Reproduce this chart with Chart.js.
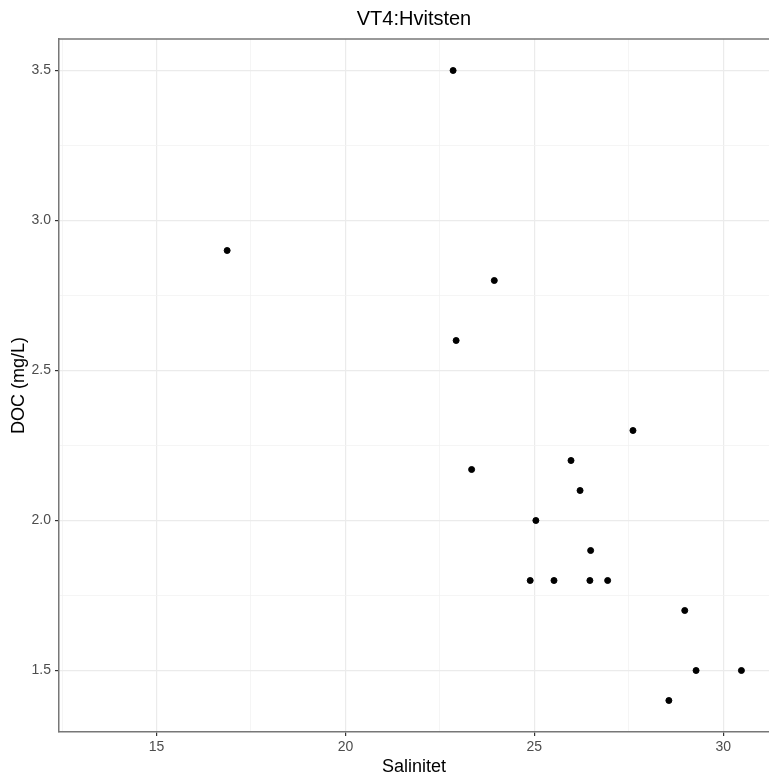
<!DOCTYPE html>
<html>
<head>
<meta charset="utf-8">
<script src="https://cdn.jsdelivr.net/npm/chart.js@4"></script>
<style>
  html, body { margin: 0; padding: 0; background: #fff; }
  canvas { display: block; }
</style>
</head>
<body>
<canvas id="c" width="769" height="780"></canvas>
<script>
// data
const salinitet = [16.87, 22.85, 22.93, 23.94, 23.34, 25.97, 26.21, 25.04, 26.49, 24.89, 25.52, 26.47, 26.94, 27.61, 28.98, 29.28, 30.48, 28.56];
const doc = [2.9, 3.5, 2.6, 2.8, 2.17, 2.2, 2.1, 2.0, 1.9, 1.8, 1.8, 1.8, 1.8, 2.3, 1.7, 1.5, 1.5, 1.4];

const xMajor = [15, 20, 25, 30];
const xMinor = [12.5, 17.5, 22.5, 27.5];
const yMajor = [1.5, 2.0, 2.5, 3.0, 3.5];
const yMinor = [1.75, 2.25, 2.75, 3.25];

const title = 'VT4:Hvitsten';
const xTitle = 'Salinitet';
const yTitle = 'DOC (mg/L)';

const FONT = '"Liberation Sans", Arial, sans-serif';
const GRID_MAJOR = '#EBEBEB';
const GRID_MINOR = '#F2F2F2';
const TICK_COL = '#333333';

const points = salinitet.map((x, i) => ({x: x, y: doc[i]}));

function isMajor(list, v) {
  return list.some(m => Math.abs(m - v) < 1e-6);
}

// ggplot-ish panel title + top border
const panelDecor = {
  id: 'panelDecor',
  afterDraw(chart) {
    const {ctx, chartArea} = chart;
    ctx.save();
    ctx.strokeStyle = '#777';
    ctx.lineWidth = 1.5;
    ctx.beginPath();
    ctx.moveTo(chartArea.left, chartArea.top);
    ctx.lineTo(chartArea.right, chartArea.top);
    ctx.stroke();
    ctx.fillStyle = '#000';
    ctx.font = '20px ' + FONT;
    ctx.textAlign = 'center';
    ctx.textBaseline = 'middle';
    ctx.fillText(title, (chartArea.left + chartArea.right) / 2, 19);
    ctx.restore();
  }
};

new Chart(document.getElementById('c'), {
  type: 'scatter',
  data: {
    datasets: [{
      data: points,
      backgroundColor: '#000',
      borderColor: '#000',
      pointRadius: 3,
      pointHoverRadius: 3
    }]
  },
  options: {
    responsive: false,
    animation: false,
    devicePixelRatio: 1,
    layout: {autoPadding: false, padding: {top: 39, right: 0, bottom: 0, left: 0}},
    plugins: {
      legend: {display: false},
      tooltip: {enabled: false}
    },
    scales: {
      x: {
        type: 'linear',
        min: 12.42,
        max: 31.21,
        afterFit: s => { s.height = 48; },
        afterBuildTicks: s => {
          s.ticks = xMinor.concat(xMajor).sort((a, b) => a - b).map(v => ({value: v}));
        },
        ticks: {
          autoSkip: false,
          maxRotation: 0,
          padding: 3,
          color: '#4D4D4D',
          font: {family: FONT, size: 14},
          callback: v => isMajor(xMajor, v) ? String(v) : ''
        },
        grid: {
          color: c => isMajor(xMajor, c.tick.value) ? GRID_MAJOR : GRID_MINOR,
          lineWidth: c => isMajor(xMajor, c.tick.value) ? 1.2 : 0.8,
          tickColor: c => isMajor(xMajor, c.tick.value) ? TICK_COL : 'rgba(0,0,0,0)',
          tickLength: 4,
          tickWidth: 1.2
        },
        border: {display: true, color: '#777', width: 1.5},
        title: {
          display: true,
          text: xTitle,
          color: '#000',
          font: {family: FONT, size: 18},
          padding: {top: 0, bottom: 2}
        }
      },
      y: {
        type: 'linear',
        min: 1.295,
        max: 3.605,
        afterFit: s => { s.width = 59; },
        afterBuildTicks: s => {
          s.ticks = yMinor.concat(yMajor).sort((a, b) => a - b).map(v => ({value: v}));
        },
        ticks: {
          autoSkip: false,
          padding: 4,
          color: '#4D4D4D',
          font: {family: FONT, size: 14},
          callback: v => isMajor(yMajor, v) ? v.toFixed(1) : ''
        },
        grid: {
          color: c => isMajor(yMajor, c.tick.value) ? GRID_MAJOR : GRID_MINOR,
          lineWidth: c => isMajor(yMajor, c.tick.value) ? 1.2 : 0.8,
          tickColor: c => isMajor(yMajor, c.tick.value) ? TICK_COL : 'rgba(0,0,0,0)',
          tickLength: 4,
          tickWidth: 1.2
        },
        border: {display: true, color: '#777', width: 1.5},
        title: {
          display: true,
          text: yTitle,
          color: '#000',
          font: {family: FONT, size: 18},
          padding: {top: 8, bottom: 0}
        }
      }
    }
  },
  plugins: [panelDecor]
});
</script>
</body>
</html>
